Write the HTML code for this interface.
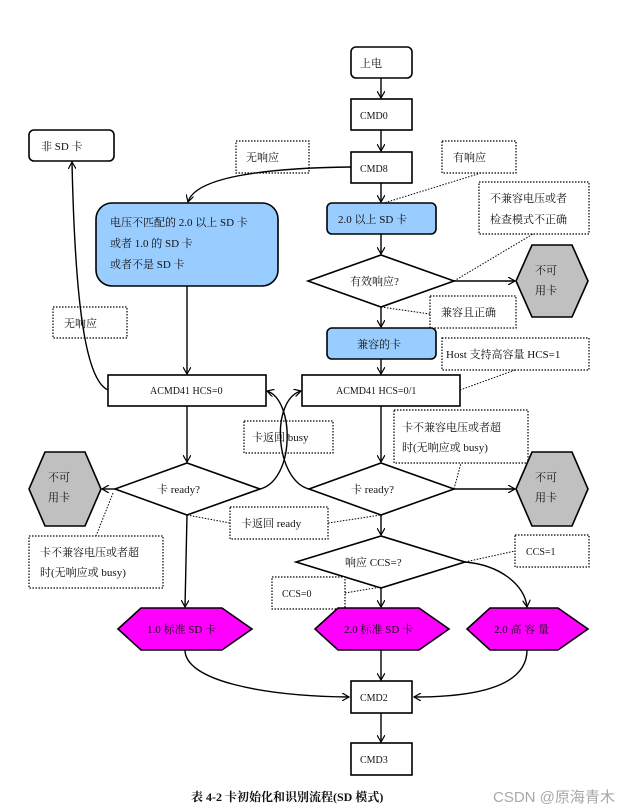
<!DOCTYPE html>
<html><head><meta charset="utf-8"><style>
html,body{margin:0;padding:0;background:#fff;}
svg{display:block;}
text{font-family:"Liberation Serif","Noto Serif CJK SC",serif;font-size:11px;fill:#111;}
.b{fill:#fff;stroke:#000;stroke-width:1.6;}
.d{fill:#fff;stroke:#000;stroke-width:1.2;stroke-dasharray:1.5,1.5;}
.l{fill:none;stroke:#000;stroke-width:1.4;}
.dl{fill:none;stroke:#000;stroke-width:1;stroke-dasharray:1.5,1.5;}
.blue{fill:#99ccff;stroke:#000;stroke-width:1.6;}
.gray{fill:#c0c0c0;stroke:#000;stroke-width:1.6;}
.mag{fill:#ff00ff;stroke:#000;stroke-width:1.6;}
</style></head><body>
<svg width="636" height="811" viewBox="0 0 636 811" xmlns="http://www.w3.org/2000/svg">
<defs><marker id="a" markerWidth="8" markerHeight="8" refX="7" refY="4" orient="auto" markerUnits="userSpaceOnUse"><path d="M0,0 L7,4 L0,8" fill="none" stroke="#000" stroke-width="1.2"/></marker></defs>

<!-- main vertical -->
<rect class="b" x="351" y="47" width="61" height="31" rx="5"/><text x="360" y="67">上电</text>
<line class="l" x1="381" y1="78" x2="381" y2="98" marker-end="url(#a)"/>
<rect class="b" x="351" y="99" width="61" height="31"/><text x="360" y="119" style="font-size:10px">CMD0</text>
<line class="l" x1="381" y1="130" x2="381" y2="151" marker-end="url(#a)"/>
<rect class="b" x="351" y="152" width="61" height="31"/><text x="360" y="172" style="font-size:10px">CMD8</text>

<rect class="b" x="29" y="130" width="85" height="31" rx="5"/><text x="41" y="150">非 SD 卡</text>
<rect class="d" x="236" y="141" width="73" height="32"/><text x="246" y="161">无响应</text>
<rect class="d" x="442" y="141" width="74" height="32"/><text x="453" y="161">有响应</text>
<path class="l" d="M351,167 C260,168 195,178 188,202" marker-end="url(#a)"/>
<line class="l" x1="381" y1="183" x2="381" y2="202" marker-end="url(#a)"/>
<path class="dl" d="M481,173 L384,203"/>

<rect class="blue" x="96" y="203" width="182" height="83" rx="16"/>
<text x="110" y="226">电压不匹配的 2.0 以上 SD 卡</text>
<text x="110" y="247">或者 1.0 的 SD 卡</text>
<text x="110" y="268">或者不是 SD 卡</text>

<rect class="blue" x="327" y="203" width="109" height="31" rx="5"/><text x="338" y="223">2.0 以上 SD 卡</text>
<rect class="d" x="479" y="182" width="110" height="52"/><text x="490" y="202">不兼容电压或者</text><text x="490" y="223">检查模式不正确</text>
<line class="l" x1="381" y1="234" x2="381" y2="254" marker-end="url(#a)"/>
<polygon class="b" points="308,281 381,255 454,281 381,307"/><text x="350" y="285">有效响应?</text>
<line class="l" x1="454" y1="281" x2="515" y2="281" marker-end="url(#a)"/>
<path class="dl" d="M454,281 L533,234"/>
<polygon class="gray" points="532,245 572,245 588,281 572,317 532,317 516,281"/><text x="535" y="274">不可</text><text x="535" y="294">用卡</text>
<rect class="d" x="430" y="296" width="86" height="32"/><text x="441" y="316">兼容且正确</text>
<path class="dl" d="M381,307 L430,314"/>
<line class="l" x1="381" y1="307" x2="381" y2="327" marker-end="url(#a)"/>
<rect class="blue" x="327" y="328" width="109" height="31" rx="5"/><text x="357" y="348">兼容的卡</text>
<rect class="d" x="442" y="338" width="147" height="32"/><text x="446" y="358">Host 支持高容量 HCS=1</text>
<path class="dl" d="M460,390 L515,370"/>
<line class="l" x1="381" y1="359" x2="381" y2="374" marker-end="url(#a)"/>

<line class="l" x1="187" y1="286" x2="187" y2="374" marker-end="url(#a)"/>
<rect class="d" x="53" y="307" width="74" height="31"/><text x="64" y="327">无响应</text>
<path class="l" d="M108,390 C85,380 75,300 72,162" marker-end="url(#a)"/>

<rect class="b" x="108" y="375" width="158" height="31"/><text x="150" y="394" style="font-size:10px">ACMD41 HCS=0</text>
<rect class="b" x="302" y="375" width="158" height="31"/><text x="336" y="394" style="font-size:10px">ACMD41 HCS=0/1</text>

<rect class="d" x="244" y="421" width="89" height="32"/><text x="252" y="441">卡返回 busy</text>
<path class="l" d="M260,489 C295,480 295,400 267,391" marker-end="url(#a)"/>
<path class="l" d="M309,489 C275,480 270,400 301,391" marker-end="url(#a)"/>

<line class="l" x1="187" y1="406" x2="187" y2="462" marker-end="url(#a)"/>
<line class="l" x1="381" y1="406" x2="381" y2="462" marker-end="url(#a)"/>
<rect class="d" x="394" y="410" width="134" height="53"/><text x="402" y="431">卡不兼容电压或者超</text><text x="402" y="451">时(无响应或 busy)</text>

<polygon class="gray" points="45,452 85,452 101,489 85,526 45,526 29,489"/><text x="48" y="481">不可</text><text x="48" y="501">用卡</text>
<polygon class="b" points="115,489 187,463 260,489 187,515"/><text x="157" y="493">卡 ready?</text>
<line class="l" x1="115" y1="489" x2="102" y2="489" marker-end="url(#a)"/>
<polygon class="b" points="309,489 381,463 454,489 381,515"/><text x="351" y="493">卡 ready?</text>
<line class="l" x1="454" y1="489" x2="515" y2="489" marker-end="url(#a)"/>
<path class="dl" d="M454,489 L461,463"/>
<polygon class="gray" points="532,452 572,452 588,489 572,526 532,526 516,489"/><text x="535" y="481">不可</text><text x="535" y="501">用卡</text>

<rect class="d" x="230" y="507" width="98" height="32"/><text x="241" y="527">卡返回 ready</text>
<path class="dl" d="M187,515 L230,523 M328,523 L381,515"/>
<rect class="d" x="29" y="536" width="134" height="52"/><text x="40" y="556">卡不兼容电压或者超</text><text x="40" y="576">时(无响应或 busy)</text>
<path class="dl" d="M113,493 L96,536"/>

<line class="l" x1="381" y1="515" x2="381" y2="535" marker-end="url(#a)"/>
<polygon class="b" points="296,562 381,536 465,562 381,588"/><text x="345" y="566">响应 CCS=?</text>
<rect class="d" x="515" y="535" width="74" height="32"/><text x="526" y="555" style="font-size:10px">CCS=1</text>
<path class="dl" d="M465,562 L515,551"/>
<rect class="d" x="272" y="577" width="73" height="32"/><text x="282" y="597" style="font-size:10px">CCS=0</text>
<path class="dl" d="M345,593 L381,587"/>
<line class="l" x1="381" y1="588" x2="381" y2="607" marker-end="url(#a)"/>
<path class="l" d="M465,562 C500,565 525,585 527,607" marker-end="url(#a)"/>
<line class="l" x1="187" y1="515" x2="185" y2="607" marker-end="url(#a)"/>

<polygon class="mag" points="118,629 141,608 222,608 252,629 222,650 141,650"/><text x="147" y="633">1.0 标准 SD 卡</text>
<polygon class="mag" points="315,629 338,608 419,608 449,629 419,650 338,650"/><text x="344" y="633">2.0 标准 SD 卡</text>
<polygon class="mag" points="467,629 490,608 558,608 588,629 558,650 490,650"/><text x="494" y="633">2.0 高 容 量</text>

<path class="l" d="M185,650 C185,680 260,696 349,697" marker-end="url(#a)"/>
<line class="l" x1="381" y1="650" x2="381" y2="680" marker-end="url(#a)"/>
<path class="l" d="M527,650 C527,685 480,697 414,697" marker-end="url(#a)"/>
<rect class="b" x="351" y="681" width="61" height="32"/><text x="360" y="701" style="font-size:10px">CMD2</text>
<line class="l" x1="381" y1="713" x2="381" y2="742" marker-end="url(#a)"/>
<rect class="b" x="351" y="743" width="61" height="32"/><text x="360" y="763" style="font-size:10px">CMD3</text>

<text x="191" y="801" style="font-size:12px;font-weight:bold">表 4-2 卡初始化和识别流程(SD 模式)</text>
<text x="493" y="802" style="font-family:'Liberation Sans','Noto Sans CJK SC',sans-serif;font-size:15px;fill:#a8a8a8">CSDN @原海青木</text>
</svg>
</body></html>
